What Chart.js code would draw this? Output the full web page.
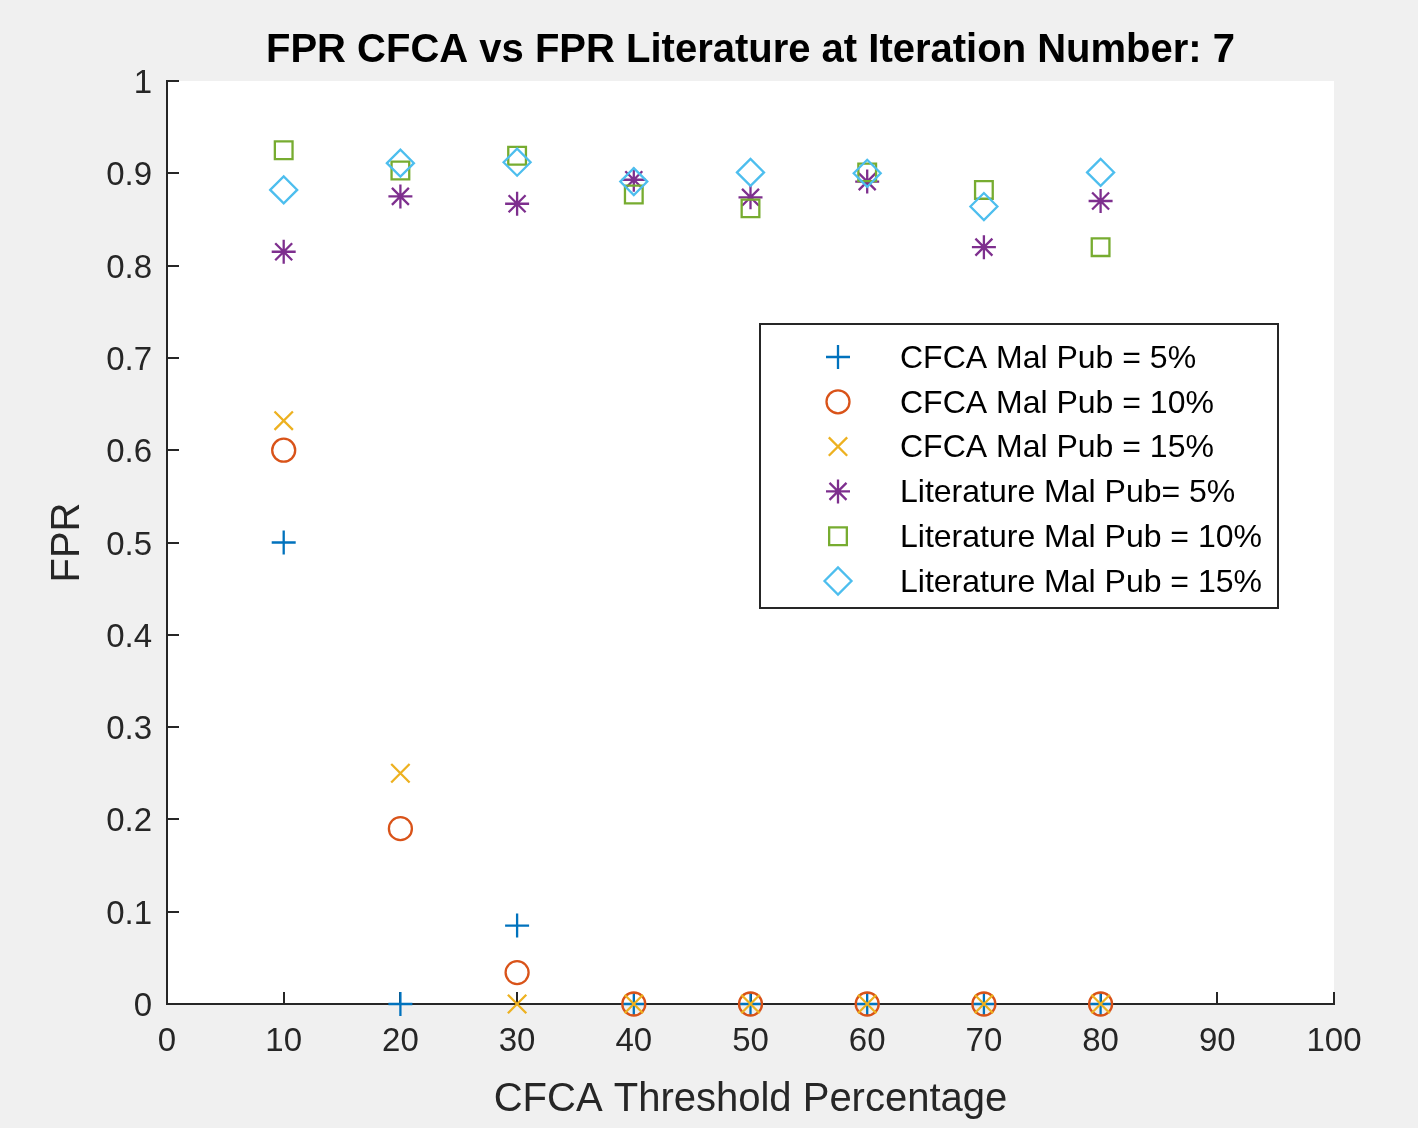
<!DOCTYPE html>
<html>
<head>
<meta charset="utf-8">
<title>FPR CFCA vs FPR Literature</title>
<script src="https://cdn.jsdelivr.net/npm/chart.js@4/dist/chart.umd.min.js"></script>
<style>
    html, body { margin: 0; padding: 0; background: #f0f0f0; }
    #wrap { width: 1418px; height: 1128px; }
</style>
</head>
<body>
<div id="wrap"><canvas id="fprChart" width="1418" height="1128"></canvas></div>
<script>
// --- data ---
const thresholds = [10, 20, 30, 40, 50, 60, 70, 80];

const cfca5  = [0.500, 0.000, 0.085, 0, 0, 0, 0, 0];
const cfca10 = [0.600, 0.190, 0.034, 0, 0, 0, 0, 0];
const cfca15 = [0.632, 0.250, 0.000, 0, 0, 0, 0, 0];
const lit5   = [0.815, 0.875, 0.867, 0.893, 0.874, 0.891, 0.820, 0.870];
const lit10  = [0.925, 0.903, 0.919, 0.877, 0.862, 0.901, 0.882, 0.820];
const lit15  = [0.882, 0.911, 0.912, 0.891, 0.901, 0.900, 0.864, 0.901];

const seriesLabels = [
    'CFCA Mal Pub = 5%',
    'CFCA Mal Pub = 10%',
    'CFCA Mal Pub = 15%',
    'Literature Mal Pub= 5%',
    'Literature Mal Pub = 10%',
    'Literature Mal Pub = 15%'
];

const xTickLabels = ['0', '10', '20', '30', '40', '50', '60', '70', '80', '90', '100'];
const yTickLabels = ['0', '0.1', '0.2', '0.3', '0.4', '0.5', '0.6', '0.7', '0.8', '0.9', '1'];

// MATLAB default colour order
const colors = ['#0072BD', '#D95319', '#EDB120', '#7E2F8E', '#77AC30', '#4DBEEE'];
const markers = ['cross', 'circle', 'crossRot', 'star', 'rect', 'rectRot'];
const markerSizes = [12, 11.5, 13, 12, 12.5, 13.5];

const FONT = "'Liberation Sans', Arial, Helvetica, sans-serif";
const AXIS_COLOR = '#262626';

function makeDataset(label, values, i) {
    return {
        label: label,
        data: thresholds.map((t, k) => ({ x: t, y: values[k] })),
        pointStyle: markers[i],
        pointRadius: markerSizes[i],
        pointBorderWidth: 2.3,
        borderColor: colors[i],
        backgroundColor: 'rgba(0,0,0,0)',
        showLine: false,
        clip: false,
        order: 6 - i // later series drawn on top, like MATLAB
    };
}

const allSeries = [cfca5, cfca10, cfca15, lit5, lit10, lit15];

// white plot area on the grey figure
const plotBackground = {
    id: 'plotBackground',
    beforeDraw(chart) {
        const { ctx, chartArea } = chart;
        ctx.save();
        ctx.fillStyle = '#ffffff';
        ctx.fillRect(chartArea.left, chartArea.top, chartArea.right - chartArea.left, chartArea.bottom - chartArea.top);
        ctx.restore();
    }
};

// center the title over the axes instead of the whole canvas
const centerTitle = {
    id: 'centerTitle',
    afterLayout(chart) {
        if (chart.titleBlock) {
            chart.titleBlock.left = chart.chartArea.left;
            chart.titleBlock.right = chart.chartArea.right;
        }
    }
};

// MATLAB style tick marks pointing into the axes
const inwardTicks = {
    id: 'inwardTicks',
    beforeDatasetsDraw(chart) {
        const { ctx, chartArea, scales } = chart;
        const len = 12;
        ctx.save();
        ctx.strokeStyle = AXIS_COLOR;
        ctx.lineWidth = 2;
        ctx.beginPath();
        scales.x.ticks.forEach(t => {
            const px = Math.round(scales.x.getPixelForValue(t.value));
            ctx.moveTo(px, chartArea.bottom);
            ctx.lineTo(px, chartArea.bottom - len);
        });
        scales.y.ticks.forEach(t => {
            const py = Math.round(scales.y.getPixelForValue(t.value));
            ctx.moveTo(chartArea.left, py);
            ctx.lineTo(chartArea.left + len, py);
        });
        ctx.stroke();
        ctx.restore();
    }
};

// boxed legend inside the axes (right side, middle)
const boxLegend = {
    id: 'boxLegend',
    afterDraw(chart) {
        const { ctx } = chart;
        const box = { x: 760, y: 324, w: 518, h: 284 };
        const rowH = 44.8;
        const firstRow = 357;
        ctx.save();
        ctx.fillStyle = '#ffffff';
        ctx.fillRect(box.x, box.y, box.w, box.h);
        ctx.strokeStyle = AXIS_COLOR;
        ctx.lineWidth = 2;
        ctx.strokeRect(box.x, box.y, box.w, box.h);

        chart.data.datasets.forEach((ds, i) => {
            const cy = firstRow + i * rowH;
            ctx.strokeStyle = ds.borderColor;
            ctx.fillStyle = 'rgba(0,0,0,0)';
            ctx.lineWidth = 2.3;
            Chart.helpers.drawPoint(ctx, {
                pointStyle: ds.pointStyle,
                radius: ds.pointRadius,
                rotation: 0,
                borderWidth: 2.3
            }, 838, cy);

            ctx.fillStyle = '#000000';
            ctx.font = '32px ' + FONT;
            ctx.textAlign = 'left';
            ctx.textBaseline = 'middle';
            ctx.fillText(ds.label, 900, cy + 2);
        });
        ctx.restore();
    }
};

const ctx = document.getElementById('fprChart').getContext('2d');

new Chart(ctx, {
    type: 'scatter',
    data: {
        datasets: allSeries.map((vals, i) => makeDataset(seriesLabels[i], vals, i))
    },
    options: {
        responsive: false,
        animation: false,
        events: [],
        layout: { padding: { left: 0, right: 84, top: 0, bottom: 0 } },
        plugins: {
            legend: { display: false },
            tooltip: { enabled: false },
            title: {
                display: true,
                text: 'FPR CFCA vs FPR Literature at Iteration Number: 7',
                color: '#000000',
                font: { family: FONT, size: 40, weight: 'bold' },
                padding: { top: 27, bottom: 6 }
            }
        },
        scales: {
            x: {
                type: 'linear',
                min: 0,
                max: 100,
                grid: { display: false, drawTicks: false },
                border: { display: true, color: AXIS_COLOR, width: 2 },
                ticks: {
                    stepSize: 10,
                    autoSkip: false,
                    maxRotation: 0,
                    padding: 18,
                    color: AXIS_COLOR,
                    font: { family: FONT, size: 33 },
                    callback: (v, i) => xTickLabels[i]
                },
                title: {
                    display: true,
                    text: 'CFCA Threshold Percentage',
                    color: AXIS_COLOR,
                    font: { family: FONT, size: 40 },
                    padding: { top: 0, bottom: 4 }
                },
                afterFit: s => { s.height = 124; }
            },
            y: {
                type: 'linear',
                min: 0,
                max: 1,
                grid: { display: false, drawTicks: false },
                border: { display: true, color: AXIS_COLOR, width: 2 },
                ticks: {
                    stepSize: 0.1,
                    autoSkip: false,
                    padding: 15,
                    labelOffset: 3,
                    color: AXIS_COLOR,
                    font: { family: FONT, size: 33 },
                    callback: (v, i) => yTickLabels[i]
                },
                title: {
                    display: true,
                    text: 'FPR',
                    color: AXIS_COLOR,
                    font: { family: FONT, size: 40 },
                    padding: { top: 44, bottom: 0 }
                },
                afterFit: s => { s.width = 167; }
            }
        }
    },
    plugins: [plotBackground, centerTitle, inwardTicks, boxLegend]
});
</script>
</body>
</html>
